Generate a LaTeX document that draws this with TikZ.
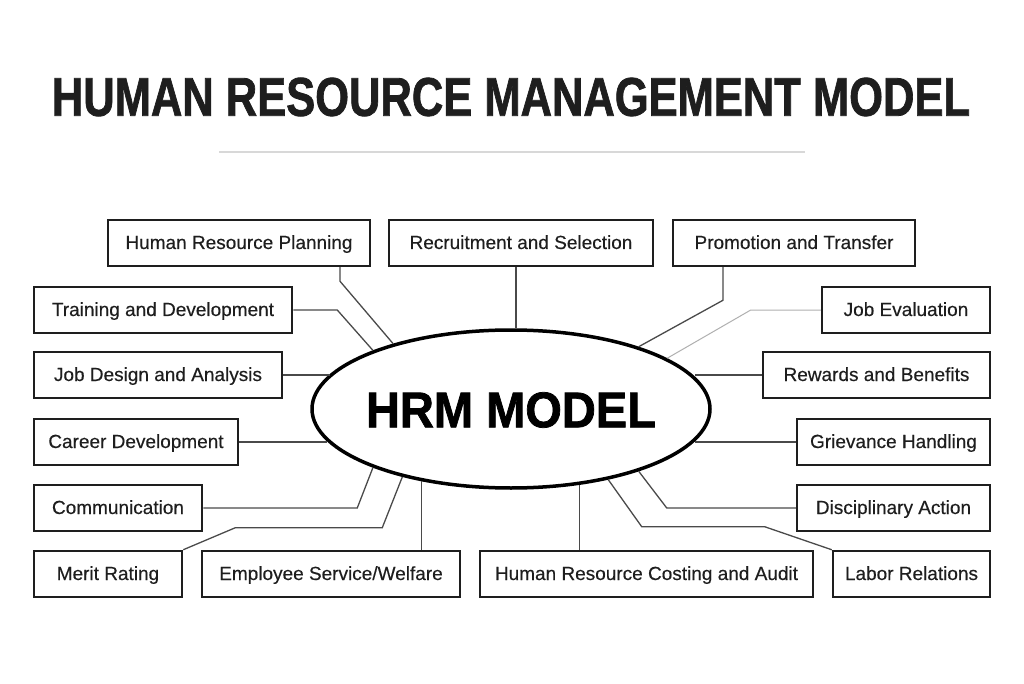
\documentclass[tikz,border=0pt]{standalone}
\usepackage{fontspec}
\setmainfont{Liberation Sans}
\newfontfamily\boxfont[FakeBold=0.35]{Liberation Sans}
\newfontfamily\heavyfont[FakeBold=1.5]{Liberation Sans Bold}
\usetikzlibrary{shapes.geometric}
\definecolor{ink}{HTML}{1E1E1E}
\definecolor{wire}{HTML}{4A4A4A}
\definecolor{wirelight}{HTML}{B0B0B0}
\definecolor{rule}{HTML}{D8D8D8}
\tikzset{
  hbox/.style={draw=ink, line width=2.5pt, rectangle, inner sep=0pt,
    minimum height=46pt, text height=14pt, text depth=2pt,
    font=\boxfont\fontsize{19}{21}\selectfont, text=ink},
  wireline/.style={draw=wire, line width=1.3pt},
  lightwire/.style={draw=wirelight, line width=1pt},
}
\begin{document}
\begin{tikzpicture}[x=1pt,y=-1pt]
\useasboundingbox[fill=white] (0,0) rectangle (1024,684);

% title
\node[text=ink, inner sep=0pt] (title) at (511,97)
  {\resizebox{918pt}{38pt}{\heavyfont HUMAN RESOURCE MANAGEMENT MODEL}};
\coordinate (ruleL) at (219,152);
\coordinate (ruleR) at (805,152);
\draw[rule, line width=1.5pt] (ruleL) -- (ruleR);

% centre ellipse
\node[ellipse, draw=black, line width=3.5pt, minimum width=398pt, minimum height=158pt, inner sep=0pt] (hrm) at (511,409) {};
\node[inner sep=0pt, text=black] (hrmtext) at (511,410) {\resizebox{290pt}{35pt}{\heavyfont HRM MODEL}};

% boxes
\node[hbox, minimum width=262pt] (hrp) at (239,243) {Human Resource Planning};
\node[hbox, minimum width=264pt] (rec) at (521,243) {Recruitment and Selection};
\node[hbox, minimum width=242pt] (pro) at (794,243) {Promotion and Transfer};
\node[hbox, minimum width=258pt] (trd) at (163,310) {Training and Development};
\node[hbox, minimum width=168pt] (jev) at (906,310) {Job Evaluation};
\node[hbox, minimum width=248pt] (jda) at (158,375) {Job Design and Analysis};
\node[hbox, minimum width=227pt] (rwb) at (876.5,375) {Rewards and Benefits};
\node[hbox, minimum width=204pt] (car) at (136,442) {Career Development};
\node[hbox, minimum width=193pt] (grv) at (893.5,442) {Grievance Handling};
\node[hbox, minimum width=168pt] (com) at (118,508) {Communication};
\node[hbox, minimum width=193pt] (dis) at (893.5,508) {Disciplinary Action};
\node[hbox, minimum width=148pt] (mer) at (108,574) {Merit Rating};
\node[hbox, minimum width=258pt] (emp) at (331,574) {Employee Service/Welfare};
\node[hbox, minimum width=333pt] (cost) at (646.5,574) {Human Resource Costing and Audit};
\node[hbox, minimum width=157pt] (lab) at (911.5,574) {Labor Relations};

% connectors, left side
\draw[wireline] ([xshift=101pt]hrp.south) -- ++(0,14) -- (hrm.151.2);
\draw[wireline] (trd.east) -- ++(44,0) -- (hrm.157.5);
\draw[wireline] (jda.east) -- (jda.east -| hrm.169.3);
\draw[wireline] (car.east) -- (car.east -| hrm.190);
\draw[wireline] (com.east) -- ++(154,0) -- (hrm.203.3);
\draw[wireline] (mer.north east) -- ++(52,-22) -- ++(147,0) -- (hrm.212.7);
\draw[wireline] (hrm.219.6 |- emp.north) -- (hrm.219.6);

% connectors, top
\draw[wireline] ([xshift=-5pt]rec.south) -- ([xshift=-5pt]rec.south |- hrm.north);
\draw[wireline] ([xshift=-71pt]pro.south) -- ++(0,33) -- (hrm.26.9);
\draw[lightwire] (jev.west) -- ++(-70,0) -- (hrm.18.4);

% connectors, right side
\draw[wireline] (rwb.west) -- (rwb.west -| hrm.10.7);
\draw[wireline] (grv.west) -- (grv.west -| hrm.350);
\draw[wireline] (dis.west) -- ++(-129,0) -- (hrm.334.3);
\draw[wireline] (lab.north west) -- ++(-67,-23) -- ++(-123,0) -- (hrm.324.4);
\draw[wireline] (hrm.312 |- cost.north) -- (hrm.312);
\end{tikzpicture}
\end{document}
